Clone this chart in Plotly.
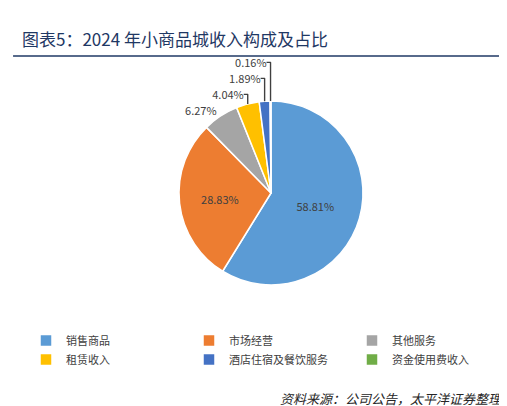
import plotly.graph_objects as go

# --- Data ---
categories = ["销售商品", "市场经营", "其他服务", "租赁收入", "酒店住宿及餐饮服务", "资金使用费收入"]
shares = [58.81, 28.83, 6.27, 4.04, 1.89, 0.16]
colors = ["#5B9BD5", "#ED7D31", "#A5A5A5", "#FFC000", "#4472C4", "#70AD47"]
text_pos = ["inside", "inside", "outside", "outside", "outside", "outside"]

W, H = 507, 406
cx, cy, r = 263, 185, 92

fig = go.Figure(go.Pie(
    labels=categories,
    values=shares,
    text=[f"{v:.2f}%" for v in shares],
    textinfo="text",
    textposition=text_pos,
    insidetextorientation="horizontal",
    textfont=dict(size=11, color="#404040"),
    outsidetextfont=dict(size=11, color="#404040"),
    marker=dict(colors=colors, line=dict(color="white", width=1.5)),
    sort=False,
    direction="clockwise",
    rotation=0,
    domain=dict(x=[(cx - r) / W, (cx + r) / W], y=[1 - (cy + r) / H, 1 - (cy - r) / H]),
    hoverinfo="label+percent",
))

fig.update_layout(
    width=W, height=H,
    margin=dict(l=0, r=0, t=0, b=0),
    paper_bgcolor="white",
    font=dict(family="Noto Sans CJK SC", color="#404040"),
    showlegend=True,
    legend=dict(
        orientation="h", x=0.1, y=1 - 318 / H, xanchor="left", yanchor="top",
        entrywidth=118, bgcolor="rgba(0,0,0,0)", font=dict(size=11, color="#404040"),
    ),
    annotations=[
        dict(text="图表5：2024 年小商品城收入构成及占比", x=12 / W, y=1 - 30 / H,
             xref="paper", yref="paper", xanchor="left", yanchor="middle",
             showarrow=False, font=dict(size=17, color="#1F3864")),
        dict(text="<i>资料来源：公司公告，太平洋证券整理</i>", x=1 - 10 / W, y=1 - 390 / H,
             xref="paper", yref="paper", xanchor="right", yanchor="middle",
             showarrow=False, font=dict(size=13, color="#262626")),
    ],
    shapes=[
        dict(type="line", xref="paper", yref="paper", x0=0.01, x1=0.99,
             y0=1 - 48 / H, y1=1 - 48 / H, line=dict(color="#1F3864", width=1.5)),
    ],
)

fig.write_html("out.html")
